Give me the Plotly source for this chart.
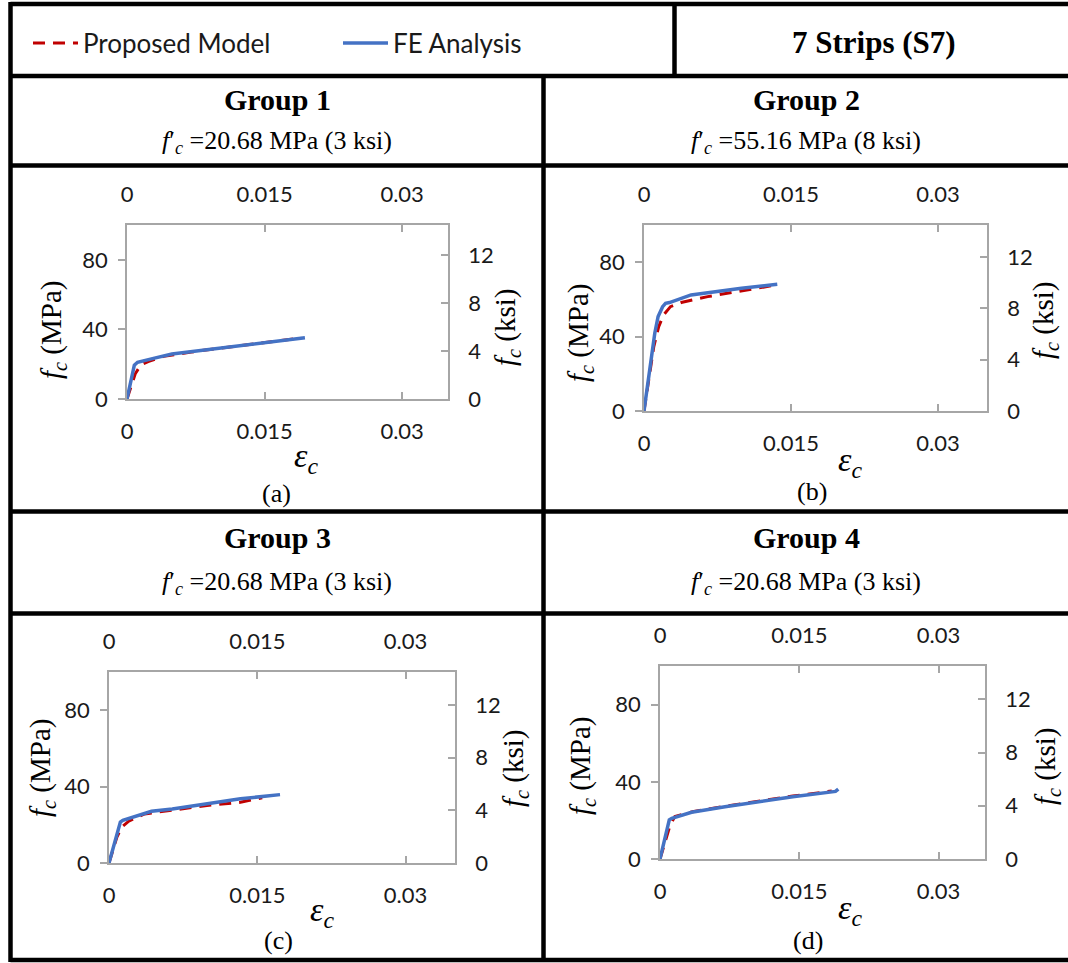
import plotly.graph_objects as go

W, H = 1068, 963

# ---------------- data (strain, stress MPa) ----------------
panels = ["a", "b", "c", "d"]

A_fe_strain = [0, 0.0008, 0.00115, 0.0016, 0.003, 0.0049, 0.0086, 0.0135, 0.0194]
A_fe_stress = [0, 19.5, 21.1, 21.8, 23.5, 25.9, 28.2, 31.4, 35.2]
A_pm_strain = [0, 0.0005, 0.0009, 0.0015, 0.0023, 0.004, 0.007, 0.011, 0.015, 0.019]
A_pm_stress = [0, 8, 14.5, 19.5, 21.5, 24.5, 27, 29.8, 32.3, 35]

B_fe_strain = [0, 0.0011, 0.00144, 0.0019, 0.0022, 0.0026, 0.0048, 0.0065, 0.00995, 0.0136]
B_fe_stress = [0, 41.8, 50.8, 56.1, 57.9, 58.3, 62.4, 63.7, 66.0, 68.2]
B_pm_strain = [0, 0.001, 0.0015, 0.002, 0.0027, 0.0038, 0.0065, 0.00995, 0.0131]
B_pm_stress = [0, 34.6, 45.4, 51.7, 56.1, 58.3, 61.5, 64.6, 67.4]

C_fe_strain = [0, 0.00115, 0.0014, 0.0043, 0.0064, 0.0099, 0.0133, 0.0173]
C_fe_stress = [0, 21.4, 22.3, 27.1, 28.3, 31.0, 33.6, 35.8]
C_pm_strain = [0, 0.0008, 0.0013, 0.002, 0.0036, 0.0064, 0.0099, 0.0133, 0.0155]
C_pm_stress = [0, 13.6, 18.8, 21.9, 25.7, 27.8, 30.1, 31.8, 34.2]

D_fe_strain = [0, 0.001, 0.00127, 0.0034, 0.007, 0.0106, 0.0143, 0.0189, 0.0192]
D_fe_stress = [0, 20.3, 21.1, 24.2, 27.1, 29.7, 32.3, 35.0, 36.2]
D_pm_strain = [0, 0.0006, 0.0011, 0.0016, 0.0035, 0.007, 0.0106, 0.0143, 0.0185]
D_pm_stress = [0, 10, 17.7, 22, 24.5, 27.3, 29.9, 32.6, 35.2]

fe_strain = [A_fe_strain, B_fe_strain, C_fe_strain, D_fe_strain]
fe_stress = [A_fe_stress, B_fe_stress, C_fe_stress, D_fe_stress]
pm_strain = [A_pm_strain, B_pm_strain, C_pm_strain, D_pm_strain]
pm_stress = [A_pm_stress, B_pm_stress, C_pm_stress, D_pm_stress]

group_titles = ["Group 1", "Group 2", "Group 3", "Group 4"]
fc_values = ["=20.68 MPa (3 ksi)", "=55.16 MPa (8 ksi)", "=20.68 MPa (3 ksi)", "=20.68 MPa (3 ksi)"]

x_tickvals = [0, 0.015, 0.03]
x_ticktext = ["0", "0.015", "0.03"]
mpa_tickvals = [0, 40, 80]
ksi_tickvals = [0, 4, 8, 12]
MPA_PER_KSI = 6.895
STRAIN_MAX = 0.035
MPA_MAX = 100

# ---------------- layout geometry (pixels) ----------------
plot_boxes = [  # x0, x1, ytop, ybottom
    (127, 448, 225, 399),
    (644, 987, 225, 411),
    (109, 455, 672, 863),
    (660, 985, 666, 859),
]
header_centers = [(277, 100, 142), (806, 100, 142), (277, 537, 583), (806, 537, 583)]
eps_pos = [(306, 458), (850, 462), (322, 912), (850, 910)]
lab_pos = [(276, 493), (812, 491), (278, 940), (808, 940)]
ylt_pos = [(53, 330), (580, 333), (42, 768), (582, 766)]
yrt_pos = [(507, 327), (1045, 320), (515, 768), (1047, 766)]


def fx(px):
    return px / W


def fy(py):
    return 1 - py / H


RED = "#C00000"
BLUE = "#4472C4"
AX = "#A6A6A6"
TICKFONT = dict(family="Lato", size=22, color="#1a1a1a")
SERIF = "Liberation Serif"

fig = go.Figure()
layout = {}

for i in range(4):
    xb, xt, yl, yr = 2 * i + 1, 2 * i + 2, 2 * i + 1, 2 * i + 2
    xn = lambda n: "x" if n == 1 else f"x{n}"
    yn = lambda n: "y" if n == 1 else f"y{n}"
    fig.add_trace(go.Scatter(
        x=pm_strain[i], y=pm_stress[i], mode="lines", name="Proposed Model",
        line=dict(color=RED, width=3, dash="12px,8px"),
        xaxis=xn(xb), yaxis=yn(yl), showlegend=(i == 0)))
    fig.add_trace(go.Scatter(
        x=fe_strain[i], y=fe_stress[i], mode="lines", name="FE Analysis",
        line=dict(color=BLUE, width=3.5),
        xaxis=xn(xb), yaxis=yn(yl), showlegend=(i == 0)))
    # secondary axes (top strain / right ksi)
    fig.add_trace(go.Scatter(x=[None], y=[None], mode="lines", showlegend=False,
                             xaxis=xn(xt), yaxis=yn(yr), hoverinfo="skip"))

    x0, x1, yt, ybm = plot_boxes[i]
    xdom = [fx(x0), fx(x1)]
    ydom = [fy(ybm), fy(yt)]
    common_x = dict(range=[0, STRAIN_MAX], tickvals=x_tickvals, ticktext=x_ticktext,
                    showgrid=False, zeroline=False, showline=True, linecolor=AX,
                    linewidth=1.5, ticks="inside", ticklen=7, tickcolor=AX, tickwidth=1.5,
                    tickfont=TICKFONT, ticklabelstandoff=12, fixedrange=True, automargin=False)
    kb = "xaxis" if xb == 1 else f"xaxis{xb}"
    layout[kb] = dict(common_x, domain=xdom, anchor=yn(yl), side="bottom")
    layout[f"xaxis{xt}"] = dict(common_x, domain=xdom, anchor=yn(yr), side="top",
                                overlaying=xn(xb))
    kl = "yaxis" if yl == 1 else f"yaxis{yl}"
    layout[kl] = dict(range=[0, MPA_MAX], tickvals=mpa_tickvals, domain=ydom, anchor=xn(xb),
                      showgrid=False, zeroline=False, showline=True, linecolor=AX, linewidth=1.5,
                      ticks="outside", ticklen=7, tickcolor=AX, tickwidth=1.5,
                      tickfont=TICKFONT, ticklabelstandoff=6, fixedrange=True, automargin=False)
    layout[f"yaxis{yr}"] = dict(range=[0, MPA_MAX / MPA_PER_KSI], tickvals=ksi_tickvals,
                                domain=ydom, anchor=xn(xt), side="right", overlaying=yn(yl),
                                showgrid=False, zeroline=False, showline=True, linecolor=AX,
                                linewidth=1.5, ticks="inside", ticklen=7, tickcolor=AX,
                                tickwidth=1.5, tickfont=TICKFONT, ticklabelstandoff=14,
                                fixedrange=True, automargin=False)

annotations = []


def ann(text, px, py, size, family=SERIF, angle=0, xanchor="center"):
    annotations.append(dict(text=text, x=fx(px), y=fy(py), xref="paper", yref="paper",
                            showarrow=False, xanchor=xanchor, yanchor="middle",
                            textangle=angle, font=dict(family=family, size=size, color="black")))


ann("<b>7 Strips (S7)</b>", 874, 43, 31)
for i in range(4):
    cx, gy, fyy = header_centers[i]
    ann(f"<b>{group_titles[i]}</b>", cx, gy, 30)
    ann(f"<i>f</i>′<sub><i>c</i></sub> {fc_values[i]}", cx, fyy, 26)
    ann("<i>ε</i><sub><i>c</i></sub>", eps_pos[i][0], eps_pos[i][1], 34)
    ann(f"({panels[i]})", lab_pos[i][0], lab_pos[i][1], 26)
    ann("<i>f</i><sub><i>c</i></sub> (MPa)", ylt_pos[i][0], ylt_pos[i][1], 29, angle=-90)
    ann("<i>f</i><sub><i>c</i></sub> (ksi)", yrt_pos[i][0], yrt_pos[i][1], 29, angle=-90)

# table borders
BW = 4.5
lines = [
    (10.5, 4, 1068, 4), (10.5, 2, 10.5, 962), (10.5, 960, 1068, 960),
    (10.5, 76, 1068, 76), (674.5, 4, 674.5, 76),
    (10.5, 165.5, 1068, 165.5), (543.5, 76, 543.5, 962),
    (10.5, 511.5, 1068, 511.5), (10.5, 613.5, 1068, 613.5),
]
shapes = [dict(type="line", xref="paper", yref="paper", x0=fx(a), y0=fy(b), x1=fx(c), y1=fy(d),
               line=dict(color="black", width=BW)) for a, b, c, d in lines]

fig.update_layout(
    width=W, height=H, margin=dict(l=0, r=0, t=0, b=0, pad=0, autoexpand=False),
    paper_bgcolor="white", plot_bgcolor="white",
    annotations=annotations, shapes=shapes,
    legend=dict(orientation="h", x=fx(28), y=fy(43), xanchor="left", yanchor="middle",
                font=dict(family="Lato", size=26, color="#1a1a1a"),
                bgcolor="rgba(0,0,0,0)", itemwidth=45, tracegroupgap=0,
                entrywidth=250, entrywidthmode="pixels"),
    **layout,
)

fig.write_html(
    "out.html",
    config={"displayModeBar": False},
    post_script="document.body.style.margin='0';document.body.style.padding='0';"
                "document.documentElement.style.overflow='hidden';"
                "document.body.style.overflow='hidden';",
)
